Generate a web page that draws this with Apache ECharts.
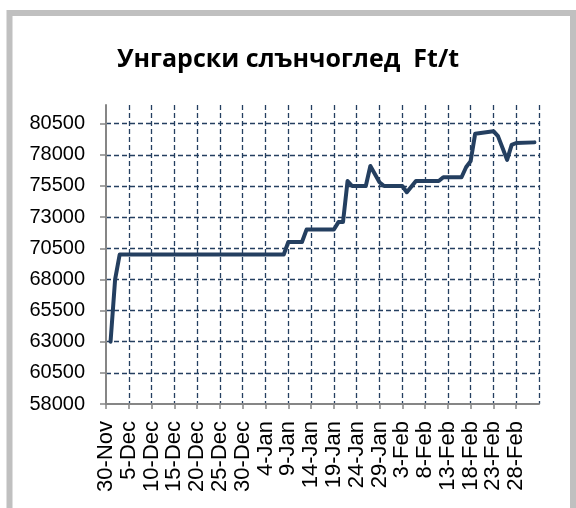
<!DOCTYPE html>
<html>
<head>
<meta charset="utf-8">
<script src="https://cdn.jsdelivr.net/npm/echarts@6/dist/echarts.min.js"></script>
<style>
  html, body { margin: 0; padding: 0; background: #ffffff; }
  #chart { width: 576px; height: 508px; }
</style>
</head>
<body>
<div id="chart"></div>
<script>
// Hungarian sunflower price, Ft per tonne
const titleText = 'Унгарски слънчоглед  Ft/t';

// Day zero of the date axis and its span in days
const startDate = '2010-11-30';
const axisDays = 95;
const dayStep = 5;
const monthNames = ['Jan', 'Feb', 'Mar', 'Apr', 'May', 'Jun', 'Jul', 'Aug', 'Sep', 'Oct', 'Nov', 'Dec'];

// Quote dates and prices
const dates = [
  '2010-12-01', '2010-12-02', '2010-12-03', '2011-01-08', '2011-01-09',
  '2011-01-12', '2011-01-13', '2011-01-19', '2011-01-20', '2011-01-21',
  '2011-01-22', '2011-01-23', '2011-01-26', '2011-01-27', '2011-01-29',
  '2011-01-30', '2011-02-03', '2011-02-04', '2011-02-06', '2011-02-11',
  '2011-02-12', '2011-02-16', '2011-02-17', '2011-02-18', '2011-02-19',
  '2011-02-23', '2011-02-24', '2011-02-26', '2011-02-27', '2011-02-28',
  '2011-03-04'
];
const prices = [
  63000, 68000, 70000, 70000, 71000,
  71000, 72000, 72000, 72600, 72600,
  75900, 75500, 75500, 77100, 75800,
  75500, 75500, 75000, 75900, 75900,
  76200, 76200, 77000, 77500, 79700,
  79900, 79500, 77600, 78800, 78950,
  79000
];

// Value axis ticks
const yTicks = [58000, 60500, 63000, 65500, 68000, 70500, 73000, 75500, 78000, 80500];
const yAxisTop = 82000;

const DAY_MS = 86400000;
const t0 = Date.parse(startDate);
const dayIndex = d => Math.round((Date.parse(d) - t0) / DAY_MS);
const dayLabel = v => {
  const dt = new Date(t0 + v * DAY_MS);
  return dt.getUTCDate() + '-' + monthNames[dt.getUTCMonth()];
};

const seriesData = dates.map((d, i) => [dayIndex(d), prices[i]]);

const navy = '#243F60';
const axisGray = '#868686';

const chart = echarts.init(document.getElementById('chart'), null, { renderer: 'canvas' });
chart.setOption({
  animation: false,
  backgroundColor: '#ffffff',
  title: {
    text: titleText,
    left: 'center',
    top: 42,
    textStyle: {
      fontFamily: 'Open Sans',
      fontWeight: 'bold',
      fontSize: 25,
      color: '#000000'
    }
  },
  graphic: [{
    type: 'rect',
    silent: true,
    z: -10,
    shape: { x: 9.5, y: 13, width: 563.5, height: 520 },
    style: { fill: 'none', stroke: '#c0c0c0', lineWidth: 6 }
  }],
  grid: { left: 106, right: 37, top: 105, bottom: 104, containLabel: false },
  xAxis: {
    type: 'value',
    min: 0,
    max: axisDays,
    interval: dayStep,
    axisLine: { show: true, lineStyle: { color: axisGray, width: 2 } },
    axisTick: { show: true, length: 5, lineStyle: { color: axisGray, width: 1.5 } },
    axisLabel: {
      rotate: 90,
      margin: 17,
      showMinLabel: true,
      showMaxLabel: false,
      hideOverlap: false,
      fontFamily: 'Liberation Sans',
      fontSize: 22,
      lineHeight: 10,
      color: '#000000',
      formatter: dayLabel
    },
    splitLine: {
      show: true,
      showMinLine: false,
      lineStyle: { color: navy, width: 1.3, type: [5, 3] }
    }
  },
  yAxis: {
    type: 'value',
    min: yTicks[0],
    max: yAxisTop,
    interval: yTicks[1] - yTicks[0],
    axisLine: { show: true, lineStyle: { color: axisGray, width: 2 } },
    axisTick: { show: true, length: 6, lineStyle: { color: axisGray, width: 1.5 } },
    axisLabel: {
      margin: 21,
      showMinLabel: true,
      showMaxLabel: false,
      fontFamily: 'Liberation Sans',
      fontSize: 20,
      color: '#000000',
      formatter: v => String(v)
    },
    splitLine: {
      show: true,
      showMinLine: false,
      showMaxLine: false,
      lineStyle: { color: navy, width: 1.3, type: [5, 3] }
    }
  },
  series: [{
    type: 'line',
    data: seriesData,
    showSymbol: false,
    symbol: 'none',
    lineStyle: { color: navy, width: 4, join: 'round', cap: 'round' },
    z: 5
  }]
});
</script>
</body>
</html>
